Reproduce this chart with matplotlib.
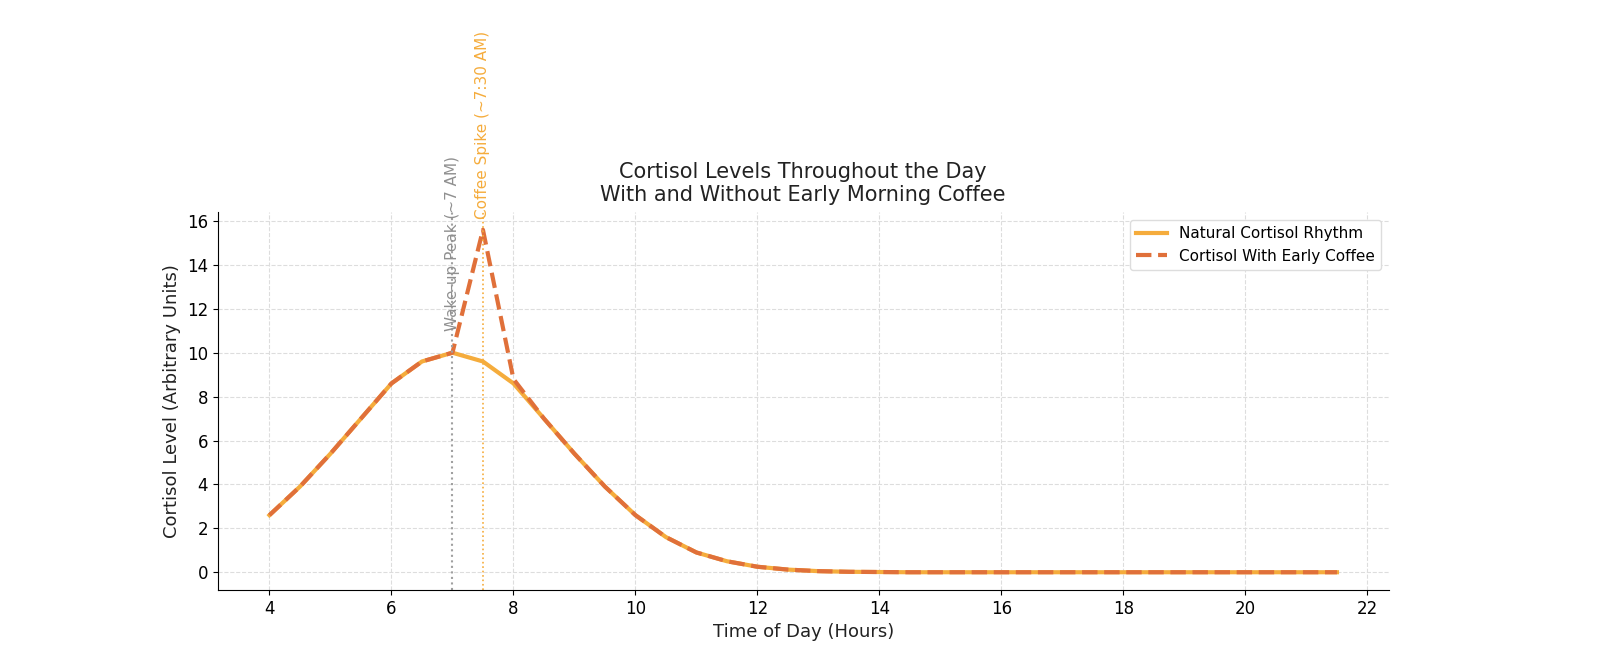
import numpy as np
import matplotlib.pyplot as plt

hours = [4, 4.5, 5, 5.5, 6, 6.5, 7, 7.5, 8, 8.5, 9, 9.5, 10, 10.5, 11, 11.5, 12, 12.5, 13,
         13.5, 14, 14.5, 15, 15.5, 16, 16.5, 17, 17.5, 18, 18.5, 19, 19.5, 20, 20.5, 21, 21.5]
natural = [2.6, 3.9, 5.4, 7.0, 8.6, 9.6, 10.0, 9.6, 8.6, 7.0, 5.4, 3.9, 2.6, 1.6, 0.9, 0.5,
           0.25, 0.12, 0.05, 0.02, 0.01, 0, 0, 0, 0, 0, 0, 0, 0, 0, 0, 0, 0, 0, 0, 0]
coffee = list(natural)
coffee[7] = 15.6
coffee[8] = 8.8

fig = plt.figure(figsize=(16, 6.59), dpi=100)
ax = fig.add_axes([0.136, 0.105, 0.732, 0.573])

ax.plot(hours, natural, color='#F5AC3C', lw=3, label='Natural Cortisol Rhythm')
ax.plot(hours, coffee, color='#E0703A', lw=3, ls='--', label='Cortisol With Early Coffee')

ax.axvline(7, color='#A0A0A0', ls=':', lw=1.5)
ax.axvline(7.5, color='#F5AC3C', ls=':', lw=1.2)
ax.text(7, 11, 'Wake-up Peak (~7 AM)', rotation=90, color='#909090', fontsize=11,
        ha='center', va='bottom')
ax.text(7.5, 16.1, 'Coffee Spike (~7:30 AM)', rotation=90, color='#F5AC3C', fontsize=11,
        ha='center', va='bottom')

ax.set_xlim(3.15, 22.35)
ax.set_ylim(-0.8, 16.4)
ax.set_xticks(range(4, 23, 2))
ax.set_yticks(range(0, 17, 2))
ax.tick_params(labelsize=12)
ax.grid(True, ls='--', color='#DDDDDD', lw=0.8)
ax.spines['top'].set_visible(False)
ax.spines['right'].set_visible(False)
ax.set_xlabel('Time of Day (Hours)', fontsize=13, color='#222222')
ax.set_ylabel('Cortisol Level (Arbitrary Units)', fontsize=13, color='#222222')
ax.set_title('Cortisol Levels Throughout the Day\nWith and Without Early Morning Coffee',
             fontsize=15, color='#222222', pad=8)
ax.legend(loc='upper right', fontsize=11, framealpha=1, edgecolor='#DDDDDD')

fig.savefig('out.png')
